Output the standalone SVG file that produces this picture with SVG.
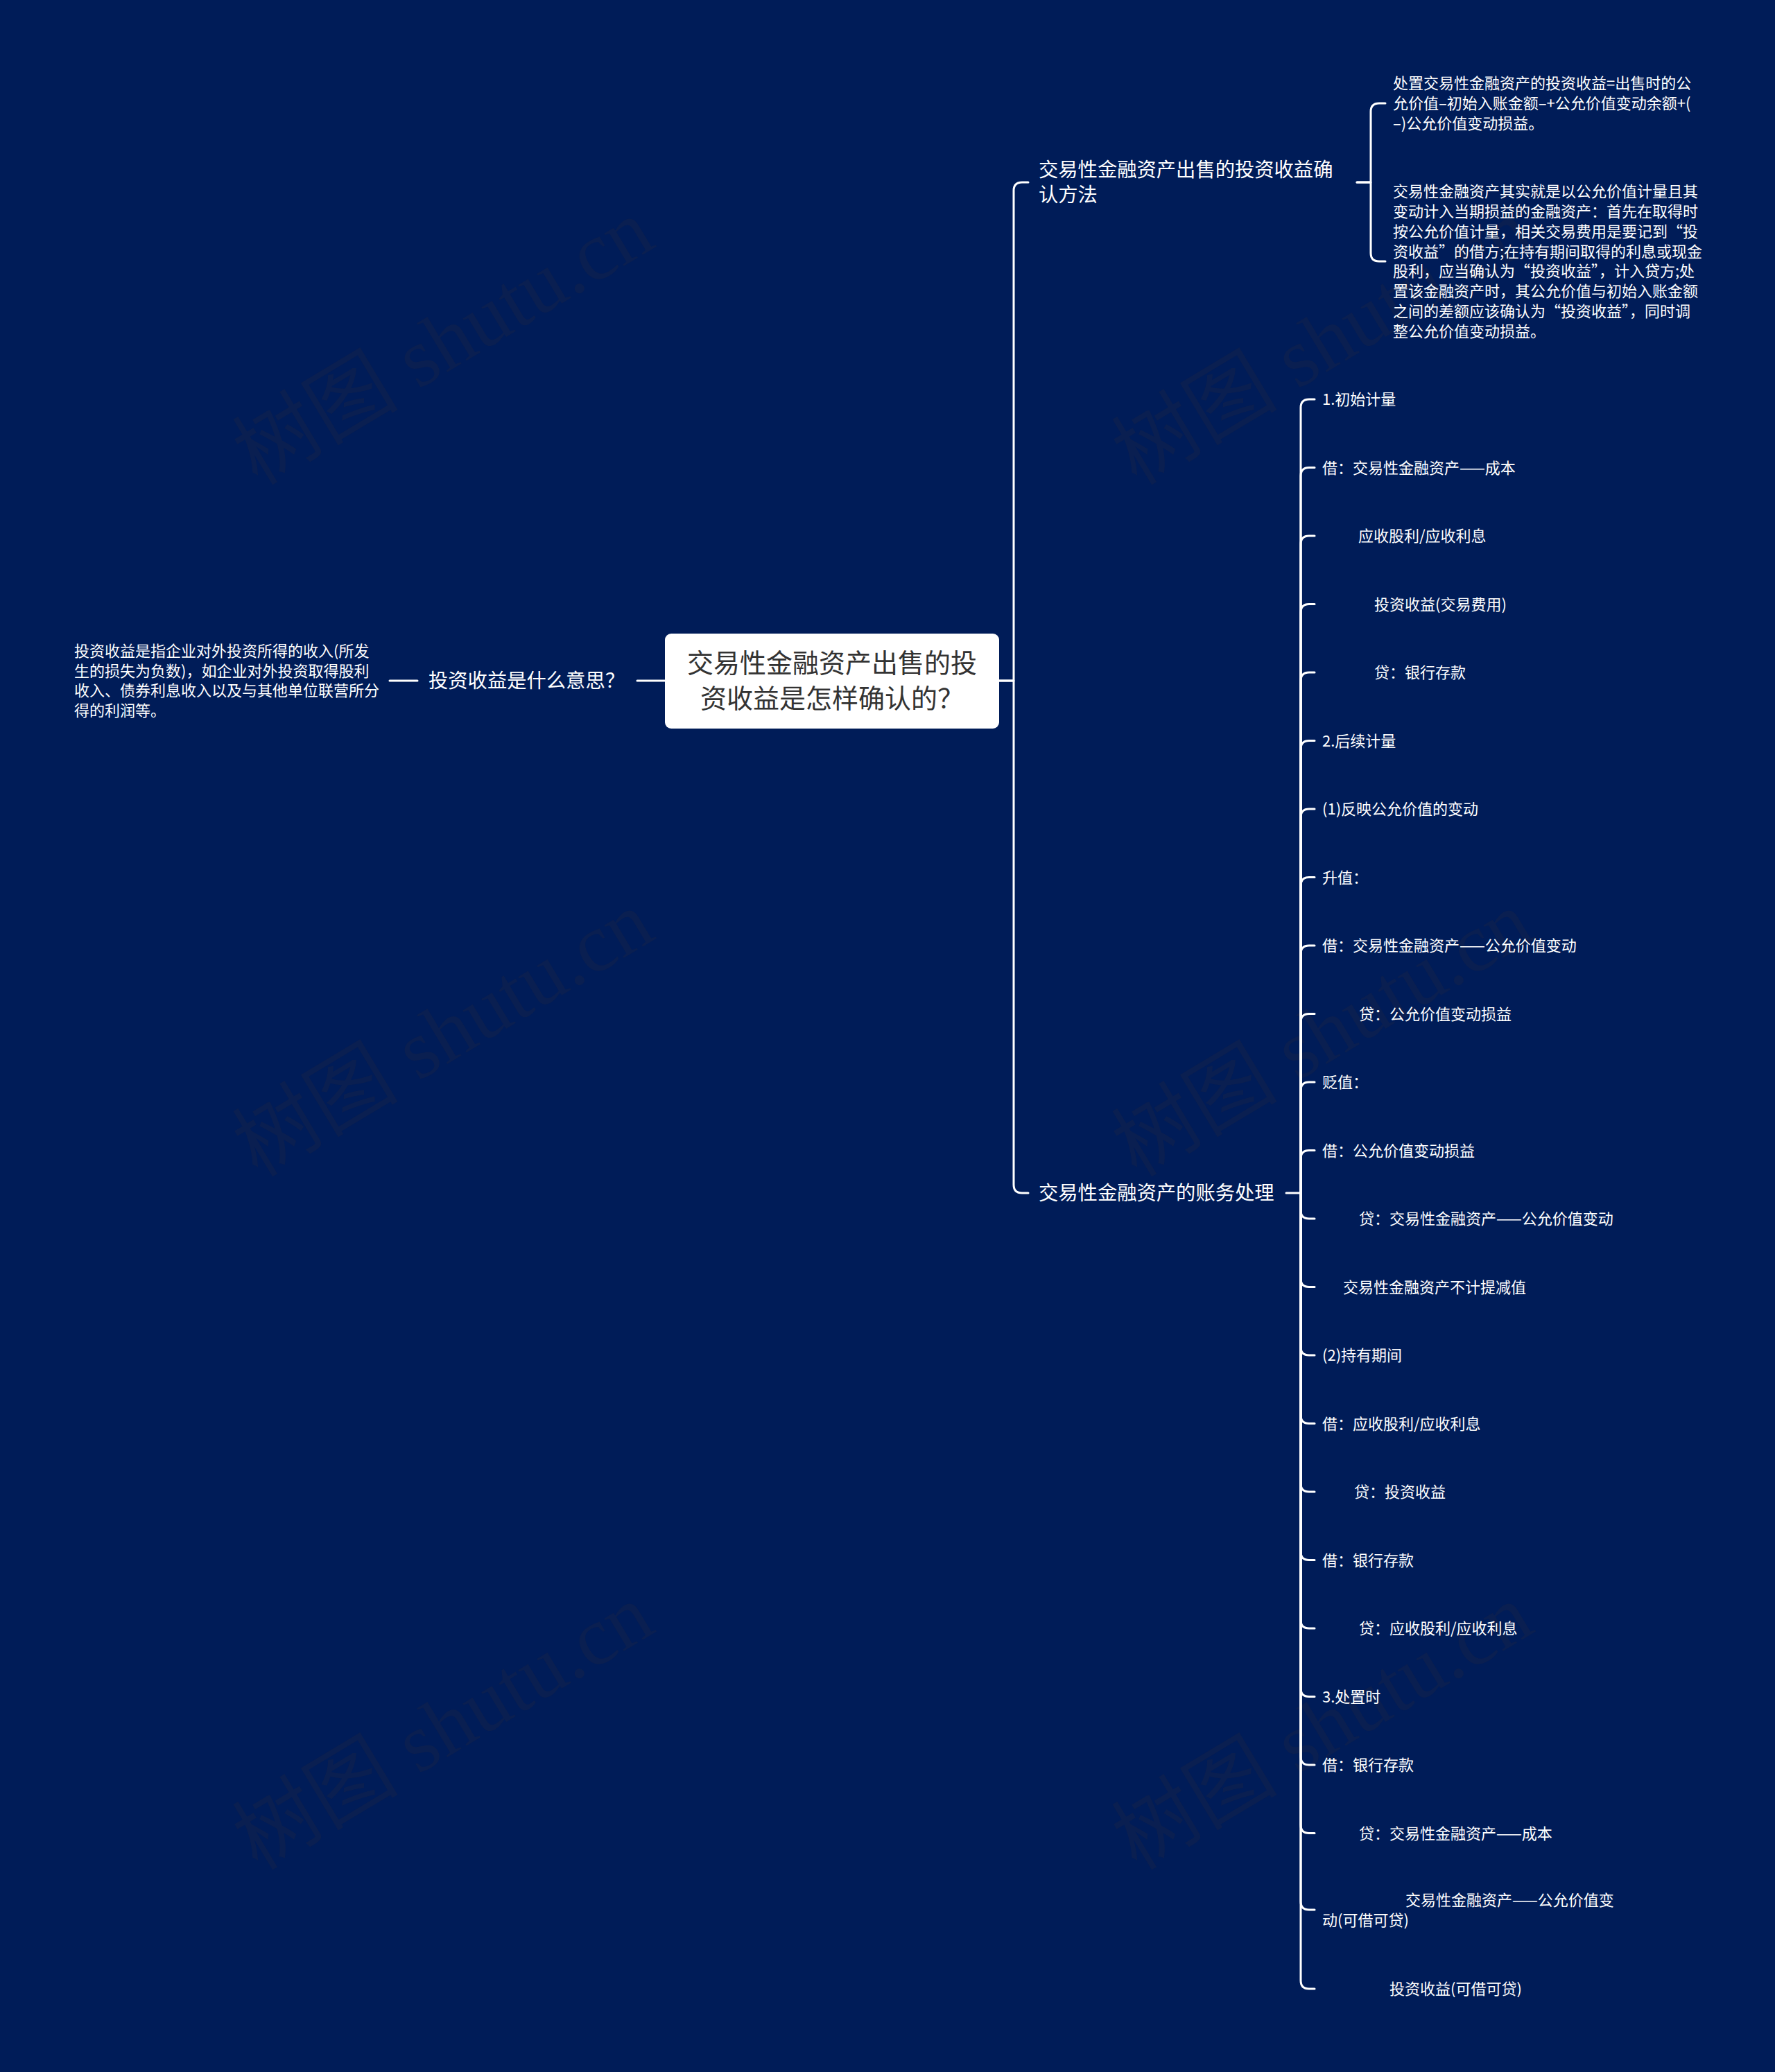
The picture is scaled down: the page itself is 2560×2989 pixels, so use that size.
<svg xmlns="http://www.w3.org/2000/svg" width="2560" height="2989" viewBox="0 0 2560 2989">
<style>
text{font-family:"Noto Sans CJK SC","Noto Sans",sans-serif;fill:#ffffff;}
.leaf{font-size:22px;}
.mid{font-size:28.3px;}
.root{font-size:38px;fill:#333333;}
.wm{font-family:"Liberation Serif","Noto Sans CJK SC",serif;font-size:120px;fill:#0c2050;opacity:0.85;}
.ln{fill:none;stroke:#ffffff;stroke-width:3;stroke-linecap:round;stroke-linejoin:round;}
</style>
<rect x="0" y="0" width="2560" height="2989" fill="#001c58"/>
<g id="watermarks">
<text class="wm" transform="translate(660 528) rotate(-31)" text-anchor="middle">树图 shutu.cn</text>
<text class="wm" transform="translate(1928 528) rotate(-31)" text-anchor="middle">树图 shutu.cn</text>
<text class="wm" transform="translate(660 1526) rotate(-31)" text-anchor="middle">树图 shutu.cn</text>
<text class="wm" transform="translate(1928 1526) rotate(-31)" text-anchor="middle">树图 shutu.cn</text>
<text class="wm" transform="translate(660 2526) rotate(-31)" text-anchor="middle">树图 shutu.cn</text>
<text class="wm" transform="translate(1928 2526) rotate(-31)" text-anchor="middle">树图 shutu.cn</text>
</g>
<g id="connectors" class="ln">
<path d="M1441 982 H1462 V275 Q1462 263 1474 263 H1483"/>
<path d="M1441 982 H1462 V1709 Q1462 1721 1474 1721 H1483"/>
<path d="M959 982 H919"/>
<path d="M602 982 H562"/>
<path d="M1957 263 H1977 V161 Q1977 149 1989 149 H1998"/>
<path d="M1957 263 H1977 V365 Q1977 377 1989 377 H1998"/>
<path d="M1855 1721 H1876 V588 Q1876 576 1888 576 H1896"/>
<path d="M1876 1721 V686.5 Q1876 674.5 1888 674.5 H1896"/>
<path d="M1876 1721 V785 Q1876 773 1888 773 H1896"/>
<path d="M1876 1721 V883.5 Q1876 871.5 1888 871.5 H1896"/>
<path d="M1876 1721 V982 Q1876 970 1888 970 H1896"/>
<path d="M1876 1721 V1080.5 Q1876 1068.5 1888 1068.5 H1896"/>
<path d="M1876 1721 V1179 Q1876 1167 1888 1167 H1896"/>
<path d="M1876 1721 V1277.5 Q1876 1265.5 1888 1265.5 H1896"/>
<path d="M1876 1721 V1376 Q1876 1364 1888 1364 H1896"/>
<path d="M1876 1721 V1474.5 Q1876 1462.5 1888 1462.5 H1896"/>
<path d="M1876 1721 V1573 Q1876 1561 1888 1561 H1896"/>
<path d="M1876 1721 V1671.5 Q1876 1659.5 1888 1659.5 H1896"/>
<path d="M1876 1721 V1746 Q1876 1758 1888 1758 H1896"/>
<path d="M1876 1721 V1844.5 Q1876 1856.5 1888 1856.5 H1896"/>
<path d="M1876 1721 V1943 Q1876 1955 1888 1955 H1896"/>
<path d="M1876 1721 V2041.5 Q1876 2053.5 1888 2053.5 H1896"/>
<path d="M1876 1721 V2140 Q1876 2152 1888 2152 H1896"/>
<path d="M1876 1721 V2238.5 Q1876 2250.5 1888 2250.5 H1896"/>
<path d="M1876 1721 V2337 Q1876 2349 1888 2349 H1896"/>
<path d="M1876 1721 V2435.5 Q1876 2447.5 1888 2447.5 H1896"/>
<path d="M1876 1721 V2534 Q1876 2546 1888 2546 H1896"/>
<path d="M1876 1721 V2632.5 Q1876 2644.5 1888 2644.5 H1896"/>
<path d="M1876 1721 V2743 Q1876 2755 1888 2755 H1896"/>
<path d="M1876 1721 V2857 Q1876 2869 1888 2869 H1896"/>
</g>
<g id="root">
<rect x="959" y="914" width="482" height="137" rx="9" fill="#ffffff"/>
<text class="root" x="1200" y="970" text-anchor="middle">交易性金融资产出售的投</text>
<text class="root" x="1200" y="1021" text-anchor="middle">资收益是怎样确认的？</text>
</g>
<g id="n-left">
<text class="mid" x="618" y="992">投资收益是什么意思？</text>
</g>
<g id="n-left-leaf">
<text class="leaf" x="107" y="947">投资收益是指企业对外投资所得的收入(所发</text>
<text class="leaf" x="107" y="976">生的损失为负数)，如企业对外投资取得股利</text>
<text class="leaf" x="107" y="1004">收入、债券利息收入以及与其他单位联营所分</text>
<text class="leaf" x="107" y="1033">得的利润等。</text>
</g>
<g id="n-top">
<text class="mid" x="1498" y="255">交易性金融资产出售的投资收益确</text>
<text class="mid" x="1498" y="291">认方法</text>
</g>
<g id="n-top-1">
<text class="leaf" x="2009" y="128">处置交易性金融资产的投资收益=出售时的公</text>
<text class="leaf" x="2009" y="157">允价值–初始入账金额–+公允价值变动余额+(</text>
<text class="leaf" x="2009" y="186">–)公允价值变动损益。</text>
</g>
<g id="n-top-2">
<text class="leaf" x="2009" y="284">交易性金融资产其实就是以公允价值计量且其</text>
<text class="leaf" x="2009" y="313">变动计入当期损益的金融资产：首先在取得时</text>
<text class="leaf" x="2009" y="342">按公允价值计量，相关交易费用是要记到“投</text>
<text class="leaf" x="2009" y="371">资收益”的借方;在持有期间取得的利息或现金</text>
<text class="leaf" x="2009" y="399">股利，应当确认为“投资收益”，计入贷方;处</text>
<text class="leaf" x="2009" y="428">置该金融资产时，其公允价值与初始入账金额</text>
<text class="leaf" x="2009" y="457">之间的差额应该确认为“投资收益”，同时调</text>
<text class="leaf" x="2009" y="486">整公允价值变动损益。</text>
</g>
<g id="n-bottom">
<text class="mid" x="1498" y="1731">交易性金融资产的账务处理</text>
</g>
<g id="leaves">
<text id="l0" class="leaf" x="1907" y="584">1.初始计量</text>
<text id="l1" class="leaf" x="1907" y="682.5">借：交易性金融资产——成本</text>
<text id="l2" class="leaf" x="1959" y="781">应收股利/应收利息</text>
<text id="l3" class="leaf" x="1982" y="879.5">投资收益(交易费用)</text>
<text id="l4" class="leaf" x="1982" y="978">贷：银行存款</text>
<text id="l5" class="leaf" x="1907" y="1076.5">2.后续计量</text>
<text id="l6" class="leaf" x="1907" y="1175">(1)反映公允价值的变动</text>
<text id="l7" class="leaf" x="1907" y="1273.5">升值：</text>
<text id="l8" class="leaf" x="1907" y="1372">借：交易性金融资产——公允价值变动</text>
<text id="l9" class="leaf" x="1960" y="1470.5">贷：公允价值变动损益</text>
<text id="l10" class="leaf" x="1907" y="1569">贬值：</text>
<text id="l11" class="leaf" x="1907" y="1667.5">借：公允价值变动损益</text>
<text id="l12" class="leaf" x="1960" y="1766">贷：交易性金融资产——公允价值变动</text>
<text id="l13" class="leaf" x="1937" y="1864.5">交易性金融资产不计提减值</text>
<text id="l14" class="leaf" x="1907" y="1963">(2)持有期间</text>
<text id="l15" class="leaf" x="1907" y="2061.5">借：应收股利/应收利息</text>
<text id="l16" class="leaf" x="1953" y="2160">贷：投资收益</text>
<text id="l17" class="leaf" x="1907" y="2258.5">借：银行存款</text>
<text id="l18" class="leaf" x="1960" y="2357">贷：应收股利/应收利息</text>
<text id="l19" class="leaf" x="1907" y="2455.5">3.处置时</text>
<text id="l20" class="leaf" x="1907" y="2554">借：银行存款</text>
<text id="l21" class="leaf" x="1960" y="2652.5">贷：交易性金融资产——成本</text>
<g id="l22">
<text class="leaf" x="2027" y="2749">交易性金融资产——公允价值变</text>
<text class="leaf" x="1907" y="2778">动(可借可贷)</text>
</g>
<text id="l23" class="leaf" x="2004" y="2877">投资收益(可借可贷)</text>
</g>
</svg>
